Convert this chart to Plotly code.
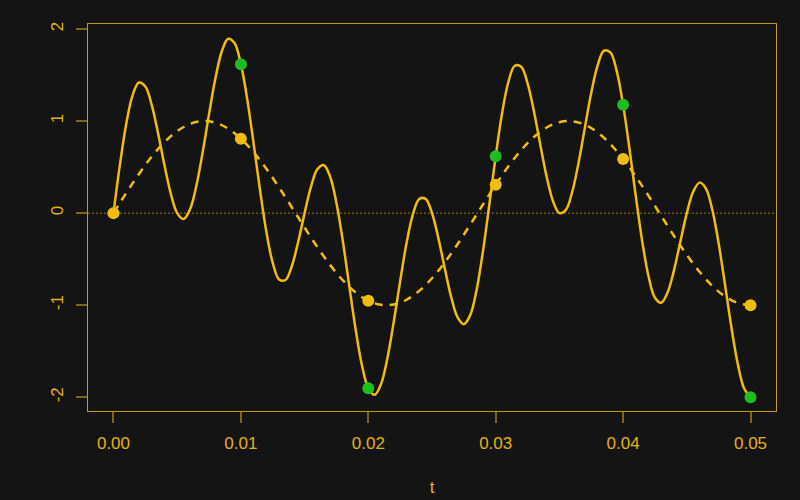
import plotly.graph_objects as go

# Solid curve, read at t = 0 .. 0.05 every 0.0005
t_fine = [i * 0.0005 for i in range(101)]
solid_y = [
    0.0000, 0.5212, 0.9682, 1.2797, 1.4179, 1.3751, 1.1750, 0.8678, 0.5218, 0.2106,
    0.0000, -0.0635, 0.0388, 0.2941, 0.6608, 1.0754, 1.4641, 1.7555, 1.8937, 1.8478,
    1.6180, 1.2351, 0.7554, 0.2511, -0.2027, -0.5412, -0.7205, -0.7261, -0.5746, -0.3110,
    0.0000, 0.2851, 0.4762, 0.5221, 0.3982, 0.1110, -0.3032, -0.7840, -1.2578, -1.6510,
    -1.9022, -1.9732, -1.8563, -1.5749, -1.1795, -0.7390, -0.3280, -0.0142, 0.1537, 0.1550,
    0.0000, -0.2717, -0.5986, -0.9078, -1.1289, -1.2058, -1.1076, -0.8338, -0.4149, 0.0931,
    0.6180, 1.0845, 1.4268, 1.6003, 1.5893, 1.4098, 1.1061, 0.7429, 0.3940, 0.1288,
    0.0000, 0.0343, 0.2275, 0.5452, 0.9289, 1.3066, 1.6053, 1.7642, 1.7457, 1.5416,
    1.1756, 0.6983, 0.1790, -0.3064, -0.6889, -0.9184, -0.9723, -0.8590, -0.6168, -0.3064,
    0.0000, 0.2314, 0.3312, 0.2670, 0.0369, -0.3301, -0.7795, -1.2401, -1.6372, -1.9054,
    -2.0000,
]

# Dashed curve, read at t = 0 .. 0.05 every 0.001
t_mid = [i * 0.001 for i in range(51)]
dashed_y = [
    0.0000, 0.2181, 0.4258, 0.6129, 0.7705, 0.8910, 0.9686, 0.9995, 0.9823, 0.9178,
    0.8090, 0.6613, 0.4818, 0.2790, 0.0628, -0.1564, -0.3681, -0.5621, -0.7290, -0.8607,
    -0.9511, -0.9956, -0.9921, -0.9409, -0.8443, -0.7071, -0.5358, -0.3387, -0.1253, 0.0941,
    0.3090, 0.5090, 0.6845, 0.8271, 0.9298, 0.9877, 0.9980, 0.9603, 0.8763, 0.7501,
    0.5878, 0.3971, 0.1874, -0.0314, -0.2487, -0.4540, -0.6374, -0.7902, -0.9048, -0.9759,
    -1.0000,
]

# Sample points
t_samp = [0.00, 0.01, 0.02, 0.03, 0.04, 0.05]
green_y = [0.0, 1.618, -1.902, 0.618, 1.176, -2.0]
gold_y = [0.0, 0.809, -0.951, 0.309, 0.588, -1.0]

x_ticks = [0.00, 0.01, 0.02, 0.03, 0.04, 0.05]
x_tick_labels = ["0.00", "0.01", "0.02", "0.03", "0.04", "0.05"]
y_ticks = [-2, -1, 0, 1, 2]
y_tick_labels = ["-2", "-1", "0", "1", "2"]

BG = "#141414"
GOLD = "#F2BC0C"
TEXT = "#E4B20E"
BOX = "#C49C0C"
TICK = "#7E6612"
DIM = "rgba(210,168,12,0.7)"
GREEN = "#1EBE1E"
FONT = "Liberation Sans, Arial, sans-serif"

fig = go.Figure()

# zero reference line
fig.add_trace(go.Scatter(x=[-0.002, 0.052], y=[0, 0], mode="lines",
                         line=dict(color=DIM, width=1, dash="2px,2px"),
                         hoverinfo="skip", showlegend=False))

fig.add_trace(go.Scatter(x=t_mid, y=dashed_y, mode="lines",
                         line=dict(color=GOLD, width=2.5, dash="8px,7px", shape="spline"),
                         showlegend=False))

fig.add_trace(go.Scatter(x=t_fine, y=solid_y, mode="lines",
                         line=dict(color=GOLD, width=2.5, shape="spline", smoothing=1.0),
                         showlegend=False))

fig.add_trace(go.Scatter(x=t_samp, y=green_y, mode="markers",
                         marker=dict(color=GREEN, size=12, line=dict(width=0)),
                         showlegend=False))

fig.add_trace(go.Scatter(x=t_samp, y=gold_y, mode="markers",
                         marker=dict(color=GOLD, size=12, line=dict(width=0)),
                         showlegend=False))

fig.update_layout(
    width=800, height=500,
    paper_bgcolor=BG, plot_bgcolor=BG,
    margin=dict(l=88, r=24, t=24, b=89),
    font=dict(family=FONT, size=17, color=TEXT),
    xaxis=dict(
        range=[-0.002, 0.052], tickvals=x_ticks, ticktext=x_tick_labels,
        showgrid=False, zeroline=False, automargin=False,
        showline=True, mirror=True, linecolor=BOX, linewidth=1.2,
        ticks="outside", ticklen=11, tickwidth=2, tickcolor=TICK,
        ticklabelstandoff=5,
        tickfont=dict(family=FONT, size=17, color=TEXT),
        title=dict(text="t", font=dict(family=FONT, size=17, color=TEXT), standoff=29),
    ),
    yaxis=dict(
        range=[-2.149, 2.054], tickvals=y_ticks, ticktext=y_tick_labels,
        showgrid=False, zeroline=False, automargin=False,
        showline=True, mirror=True, linecolor=BOX, linewidth=1.2,
        ticks="outside", ticklen=11, tickwidth=2, tickcolor=TICK,
        tickangle=-90, ticklabelstandoff=6,
        tickfont=dict(family=FONT, size=17, color=TEXT),
    ),
)

fig.write_html(
    "out.html",
    config={"displayModeBar": False},
    post_script="document.body.style.margin='0';document.body.style.background='#141414';",
)
